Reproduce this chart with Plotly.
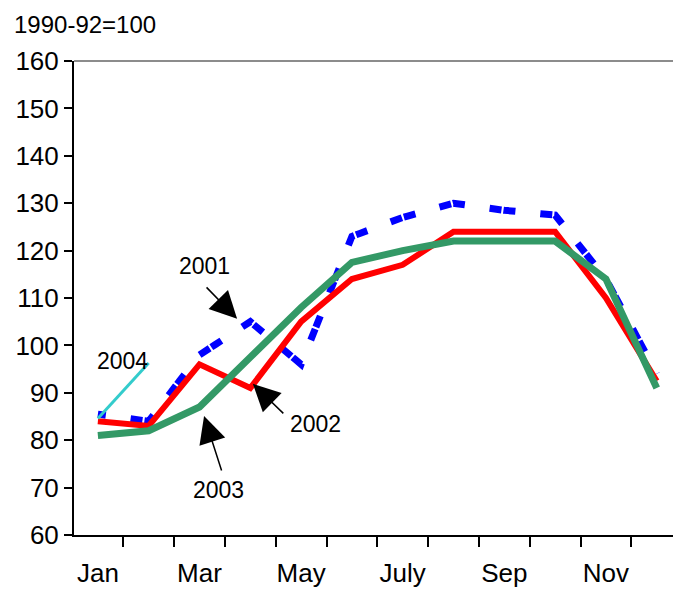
import plotly.graph_objects as go

# Monthly index values, 1990-92 = 100
months = ["Jan", "Feb", "Mar", "Apr", "May", "Jun",
          "Jul", "Aug", "Sep", "Oct", "Nov", "Dec"]
month_labels = ["Jan", "", "Mar", "", "May", "", "July", "", "Sep", "", "Nov", ""]
y_ticks = [60, 70, 80, 90, 100, 110, 120, 130, 140, 150, 160]

idx_2001 = [85.5, 84, 98, 105, 96, 123, 127, 130, 128.5, 127.5, 114, 94]
idx_2002 = [84, 83, 96, 91, 105, 114, 117, 124, 124, 124, 110, 92.5]
idx_2003 = [81, 82, 87, 97.5, 108, 117.5, 120, 122, 122, 122, 114, 91]
idx_2004 = [84.6, 96.3]

FONT = "Liberation Sans, Arial, sans-serif"

fig = go.Figure()

fig.add_trace(go.Scatter(x=months, y=idx_2001, mode="lines", name="2001",
                         line=dict(color="#0000ff", width=7,
                                   dash="8px,25px,12px,2px,4px,0px")))
fig.add_trace(go.Scatter(x=months, y=idx_2002, mode="lines", name="2002",
                         line=dict(color="#ff0000", width=6)))
fig.add_trace(go.Scatter(x=months, y=idx_2003, mode="lines", name="2003",
                         line=dict(color="#339966", width=7)))
fig.add_trace(go.Scatter(x=months[:len(idx_2004)], y=idx_2004, mode="lines", name="2004",
                         line=dict(color="#33cccc", width=3)))

# year labels and pointer arrows
label_font = dict(family=FONT, size=23, color="black")
labels = [
    ("2001", 2.09, 116.8),
    ("2002", 4.29, 83.4),
    ("2003", 2.37, 69.5),
    ("2004", 0.49, 96.8),
]
for text, lx, ly in labels:
    fig.add_annotation(x=lx, y=ly, xref="x", yref="y", text=text,
                       showarrow=False, font=label_font)

arrows = [
    (2.74, 105.6, -32, -33),
    (3.05, 91.9, 32, 31),
    (2.09, 85.1, 18, 56),
]
for ax_x, ax_y, dx, dy in arrows:
    fig.add_annotation(x=ax_x, y=ax_y, xref="x", yref="y", text="",
                       showarrow=True, ax=dx, ay=dy, arrowhead=2,
                       arrowsize=3.6, arrowwidth=1.5, arrowcolor="black")

# unit note above the value axis
fig.add_annotation(x=-0.1035, y=1.076, xref="paper", yref="paper",
                   text="1990-92=100", showarrow=False, xanchor="left",
                   yanchor="middle", font=dict(family=FONT, size=24, color="black"))

# top border of the plotting area
fig.add_shape(type="line", xref="paper", yref="paper", x0=0, x1=1, y0=1, y1=1,
              line=dict(color="#8c8c8c", width=2))

fig.update_layout(
    width=673, height=592,
    margin=dict(l=74, r=0, t=61, b=57),
    paper_bgcolor="white", plot_bgcolor="white",
    showlegend=False,
    font=dict(family=FONT, color="black"),
)
fig.update_xaxes(
    type="category", categoryorder="array", categoryarray=months,
    range=[-0.47, 11.32],
    tickvals=months, ticktext=month_labels, tickson="boundaries",
    ticks="outside", ticklen=10, tickwidth=2, tickcolor="black",
    showline=True, linecolor="black", linewidth=2,
    showgrid=False, zeroline=False, tickangle=0, automargin=False,
    tickfont=dict(family=FONT, size=26, color="black"),
    ticklabelstandoff=14,
)
fig.update_yaxes(
    range=[60, 160], tickvals=y_ticks,
    ticks="outside", ticklen=8, tickwidth=2, tickcolor="black",
    showline=True, linecolor="black", linewidth=2,
    showgrid=False, zeroline=False, automargin=False,
    tickfont=dict(family=FONT, size=26, color="black"),
)

fig.write_html("out.html")
